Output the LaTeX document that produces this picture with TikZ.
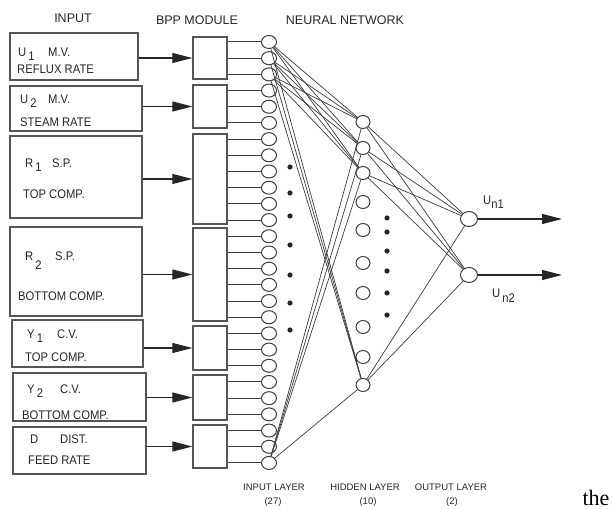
\documentclass[tikz,border=0pt]{standalone}
\usepackage{fontspec}
\setmainfont{Liberation Serif}
\newfontfamily\cadfont{Liberation Sans}
\newfontfamily\cadnarrow[FakeStretch=0.9]{Liberation Sans}
\usetikzlibrary{shapes.geometric,arrows.meta}
\definecolor{ScanInk}{HTML}{262626}
\definecolor{ScanLine}{HTML}{3C3C3C}
\definecolor{ScanBox}{HTML}{555555}
\newcommand{\varsub}[3][4pt]{#2\,\raisebox{-#1}{#3}}

\begin{document}
\begin{tikzpicture}[x=1pt, y=-1pt,
  inbox/.style={rectangle, draw=ScanBox, line width=1.6pt, inner sep=0pt},
  bppbox/.style={rectangle, draw=ScanBox, line width=1.3pt, inner sep=0pt,
                 minimum width=34pt},
  neuron/.style={ellipse, draw=ScanLine, line width=1pt, fill=white,
                 inner sep=0pt, minimum width=15pt, minimum height=13pt},
  txt/.style={anchor=base west, inner sep=0pt,
              font=\cadnarrow\fontsize{12.5}{14}\selectfont, text=ScanInk},
  hdr/.style={inner sep=0pt, font=\cadfont\fontsize{12.5}{14}\selectfont, text=ScanInk},
  lbl/.style={inner sep=0pt, font=\cadfont\fontsize{9.5}{11}\selectfont, text=ScanInk},
  arr/.style={-{Triangle[length=20pt,width=10pt]}, line width=1.1pt, color=ScanInk},
  wire/.style={line width=1pt, color=ScanLine},
  syn/.style={line width=0.7pt, color=ScanLine}
]
  \useasboundingbox (0,0) rectangle (613,510);

  % column headings
  \node[hdr] (hin)  at (73,18)  {INPUT};
  \node[hdr] (hbpp) at (197,20) {BPP MODULE};
  \node[hdr] (hnn)  at (345,20) {NEURAL NETWORK};

  % input signal boxes
  \node[inbox, minimum width=128pt, minimum height=47pt] (in1) at (74,56.5)  {};
  \node[inbox, minimum width=132pt, minimum height=45pt] (in2) at (76,108.5) {};
  \node[inbox, minimum width=132pt, minimum height=82pt] (in3) at (76,177)   {};
  \node[inbox, minimum width=132pt, minimum height=89pt] (in4) at (76,271.5) {};
  \node[inbox, minimum width=131pt, minimum height=47pt] (in5) at (77.5,343.5) {};
  \node[inbox, minimum width=133pt, minimum height=48pt] (in6) at (79.5,397) {};
  \node[inbox, minimum width=133pt, minimum height=47pt] (in7) at (79.5,450.5) {};

  \node[txt] at (18,57)  {\makebox[30pt][l]{\varsub{U}{1}}M.V.};
  \node[txt] at (17,74)  {REFLUX RATE};
  \node[txt] at (20,104) {\makebox[28pt][l]{\varsub{U}{2}}M.V.};
  \node[txt] at (20,127) {STEAM RATE};
  \node[txt] at (25,168) {\makebox[27pt][l]{\varsub{R}{1}}S.P.};
  \node[txt] at (23,199) {TOP COMP.};
  \node[txt] at (25,261) {\makebox[30pt][l]{\varsub[9pt]{R}{2}}S.P.};
  \node[txt] at (18,301) {BOTTOM COMP.};
  \node[txt] at (27,339) {\makebox[30pt][l]{\varsub{Y}{1}}C.V.};
  \node[txt] at (25,362) {TOP COMP.};
  \node[txt] at (27,394) {\makebox[33pt][l]{\varsub[3pt]{Y}{2}}C.V.};
  \node[txt] at (22,419) {BOTTOM COMP.};
  \node[txt] at (30,443) {\makebox[30pt][l]{D}DIST.};
  \node[txt] at (28,464) {FEED RATE};

  % BPP module blocks
  \node[bppbox, minimum height=42pt] (bpp1) at (210,58)    {};
  \node[bppbox, minimum height=43pt] (bpp2) at (210,106.5) {};
  \node[bppbox, minimum height=90pt] (bpp3) at (210,179)   {};
  \node[bppbox, minimum height=93pt] (bpp4) at (210,274.5) {};
  \node[bppbox, minimum height=44pt] (bpp5) at (210,348)   {};
  \node[bppbox, minimum height=45pt] (bpp6) at (210,397.5) {};
  \node[bppbox, minimum height=43pt] (bpp7) at (210,446.5) {};

  \foreach \b in {1,...,7}
    \draw[arr] (bpp\b.west -| in\b.east) -- (bpp\b.west);

  % input layer (27)
  \foreach \k in {1,...,27}
    \node[neuron] (i\k) at (269,{42+(\k-1)*16.19}) {};
  \foreach \k/\b in {1/1,2/1,3/1,4/2,5/2,6/2,7/3,8/3,9/3,10/3,11/3,12/3,
                     13/4,14/4,15/4,16/4,17/4,18/4,19/5,20/5,21/5,
                     22/6,23/6,24/6,25/7,26/7,27/7}
    \draw[wire] (i\k.west) -- (i\k.west -| bpp\b.east);

  % hidden layer (10)
  \foreach \y [count=\k] in {122,148,173,202,230,263,293,327,357,385}
    \node[neuron, minimum width=14pt] (h\k) at (363,\y) {};

  % output layer (2)
  \node[neuron, minimum width=17pt, minimum height=15pt] (o1) at (469,219) {};
  \node[neuron, minimum width=17pt, minimum height=15pt] (o2) at (469,275) {};

  \foreach \a in {1,2,3,27}
    \foreach \b in {1,2,3,10}
      \draw[syn] (i\a) -- (h\b);
  \foreach \b in {1,2,3,10}
    \foreach \c in {1,2}
      \draw[syn] (h\b) -- (o\c);

  \foreach \y in {167,193,216,245,275,303,330}
    \fill[ScanInk] (290,\y) circle[radius=2.6pt];
  \foreach \y in {218,232,251,271,293,315}
    \fill[ScanInk] (387,\y) circle[radius=2.6pt];

  \coordinate (y1) at (562,219);
  \coordinate (y2) at (562,275);
  \draw[arr] (o1) -- (y1);
  \draw[arr] (o2) -- (y2);
  \node[txt] (un1) at (483,205) {U\raisebox{-4pt}{n1}};
  \node[txt] (un2) at (492,298) {U\,\raisebox{-5pt}{n2}};

  % layer captions
  \node[lbl] (lin)  at (274,487) {INPUT LAYER};
  \node[lbl]        at (273,502) {(27)};
  \node[lbl] (lhid) at (365,487) {HIDDEN LAYER};
  \node[lbl]        at (368,502) {(10)};
  \node[lbl] (lout) at (451,487) {OUTPUT LAYER};
  \node[lbl]        at (452,502) {(2)};

  \node[anchor=base, inner sep=0pt, font=\fontsize{22}{24}\selectfont] (the) at (596,505) {the};
\end{tikzpicture}
\end{document}
